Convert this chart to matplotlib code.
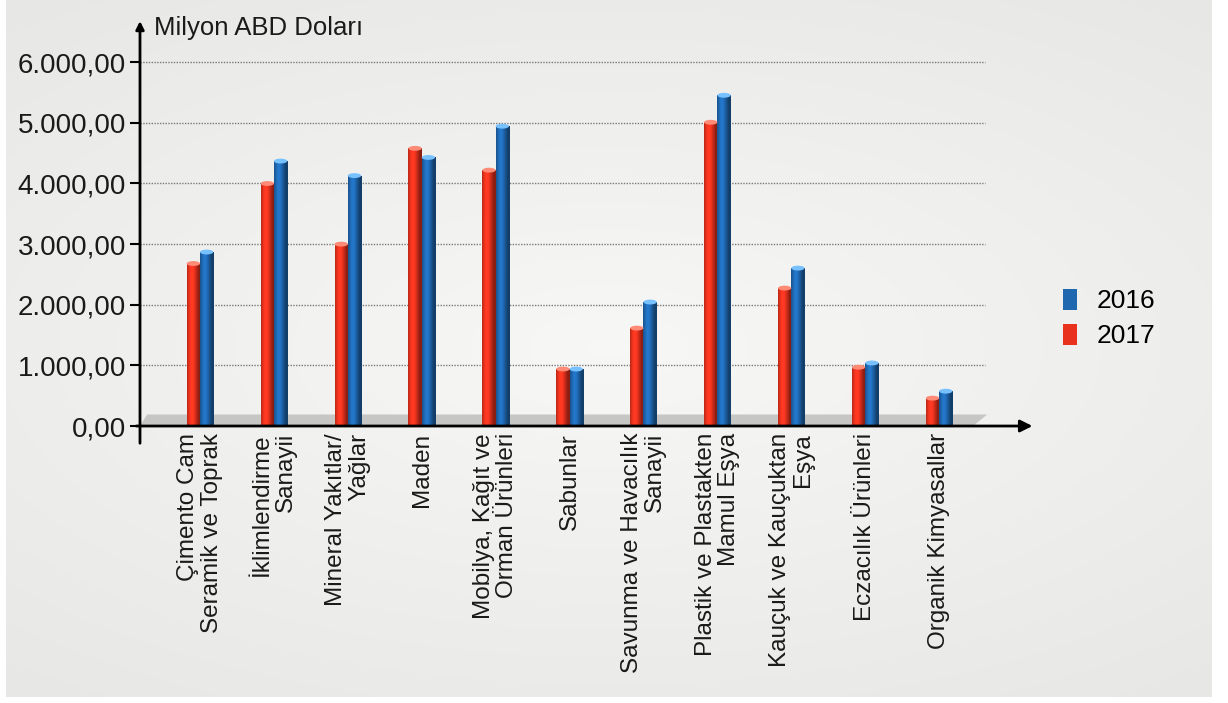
import numpy as np
import matplotlib.pyplot as plt
from matplotlib.patches import Polygon, Patch, Ellipse

plt.rcParams['font.family'] = ['Liberation Sans', 'DejaVu Sans']

# Sector names (Turkish export categories)
categories = [
    'Çimento Cam\nSeramik ve Toprak',
    'İklimlendirme\nSanayii',
    'Mineral Yakıtlar/\nYağlar',
    'Maden',
    'Mobilya, Kağıt ve\nOrman Ürünleri',
    'Sabunlar',
    'Savunma ve Havacılık\nSanayii',
    'Plastik ve Plastakten\nMamul Eşya',
    'Kauçuk ve Kauçuktan\nEşya',
    'Eczacılık Ürünleri',
    'Organik Kimyasallar',
]

# Million USD
values_2017 = [2680, 4000, 3000, 4580, 4220, 940, 1615, 5010, 2275, 970, 460]
values_2016 = [2870, 4370, 4130, 4430, 4945, 940, 2045, 5455, 2605, 1040, 575]

yticks = [0, 1000, 2000, 3000, 4000, 5000, 6000]
ytick_labels = ['0,00', '1.000,00', '2.000,00', '3.000,00', '4.000,00', '5.000,00', '6.000,00']

red = '#e8321e'
blue = '#1f68b0'

fig = plt.figure(figsize=(12.28, 7.03), dpi=100)
fig.patch.set_facecolor('white')

# soft grey backdrop with a lighter centre
bg = fig.add_axes([0.005, 0.008, 0.982, 0.992])
yy, xx = np.mgrid[-1:1:200j, -1:1:300j]
r = np.clip(np.sqrt((xx * 0.8) ** 2 + (yy * 1.0) ** 2), 0, 1.3)
lum = 0.97 - 0.05 * r
img_bg = np.dstack([lum, lum, lum * 0.995])
bg.imshow(img_bg, aspect='auto', interpolation='bilinear')
bg.axis('off')

ax = fig.add_axes([0.114, 0.394, 0.729, 0.58])
ax.patch.set_alpha(0)
x0, x1 = -0.812, 11.3
for s in ax.spines.values():
    s.set_visible(False)

# floor platform
floor = Polygon([(x0, 0), (10.46, 0), (10.65, 190), (-0.717, 190)],
                closed=True, facecolor='#c6c6c4', edgecolor='none', zorder=1, clip_on=False)
ax.add_patch(floor)

# dotted gridlines
for t in yticks[1:]:
    ax.plot([x0, 10.62], [t, t], ls=(0, (1, 1)), color='#7a7a7a', lw=1.0, zorder=0.5)

x = np.arange(len(categories))
w = 0.18

def cylinder_bars(xpos, vals, color):
    bars = ax.bar(xpos, vals, w, color=color, zorder=3, linewidth=0)
    grad = np.linspace(0, 1, 64).reshape(1, -1)
    shade = np.clip(1.25 - 1.3 * np.abs(grad - 0.35), 0.6, 1.15)
    base = np.array(plt.matplotlib.colors.to_rgb(color))
    img = np.clip(base[None, None, :] * shade[..., None], 0, 1)
    for b in bars:
        bx, by = b.get_x(), b.get_height()
        im = ax.imshow(img, extent=[bx, bx + b.get_width(), 0, by], aspect='auto',
                       zorder=3.1, interpolation='bilinear')
        im.set_clip_path(b)
        cap = Ellipse((bx + b.get_width() / 2, by), b.get_width(), 80,
                      facecolor=np.clip(base + 0.35, 0, 1), edgecolor='none', zorder=3.2)
        ax.add_patch(cap)
    return bars

cylinder_bars(x - w / 2, values_2017, red)
cylinder_bars(x + w / 2, values_2016, blue)
ax.set_xlim(x0, x1)
ax.set_ylim(0, 6725)

# axes with arrows
ax.annotate('', xy=(x1, 0), xytext=(-0.9, 0),
            arrowprops=dict(arrowstyle='-|>', color='black', lw=2, mutation_scale=18),
            annotation_clip=False, zorder=5)
ax.annotate('', xy=(x0, 6725), xytext=(x0, -330),
            arrowprops=dict(arrowstyle='-|>', color='black', lw=2, mutation_scale=12),
            annotation_clip=False, zorder=5)

ax.set_yticks(yticks)
ax.set_yticklabels(ytick_labels, fontsize=20, color='#1a1a1a')
ax.tick_params(axis='y', direction='out', length=7, width=1.5, pad=3)
ax.set_xticks([])

ax.text(-0.62, 6560, 'Milyon ABD Doları', fontsize=18.5, va='center', ha='left', color='#1a1a1a')

for i, lab in enumerate(categories):
    ax.annotate(lab, xy=(i, 0), xytext=(0, -5), textcoords='offset points',
                rotation=90, ha='center', va='top', multialignment='right',
                fontsize=17.5, linespacing=1.08, color='#1a1a1a', annotation_clip=False)

handles = [Patch(facecolor=blue, label='2016'), Patch(facecolor=red, label='2017')]
fig.legend(handles=handles, loc='center left', bbox_to_anchor=(0.846, 0.547),
           frameon=False, fontsize=19, handlelength=0.55, handleheight=0.85,
           handletextpad=0.75, labelspacing=0.4)

fig.savefig('out.png', dpi=100)
